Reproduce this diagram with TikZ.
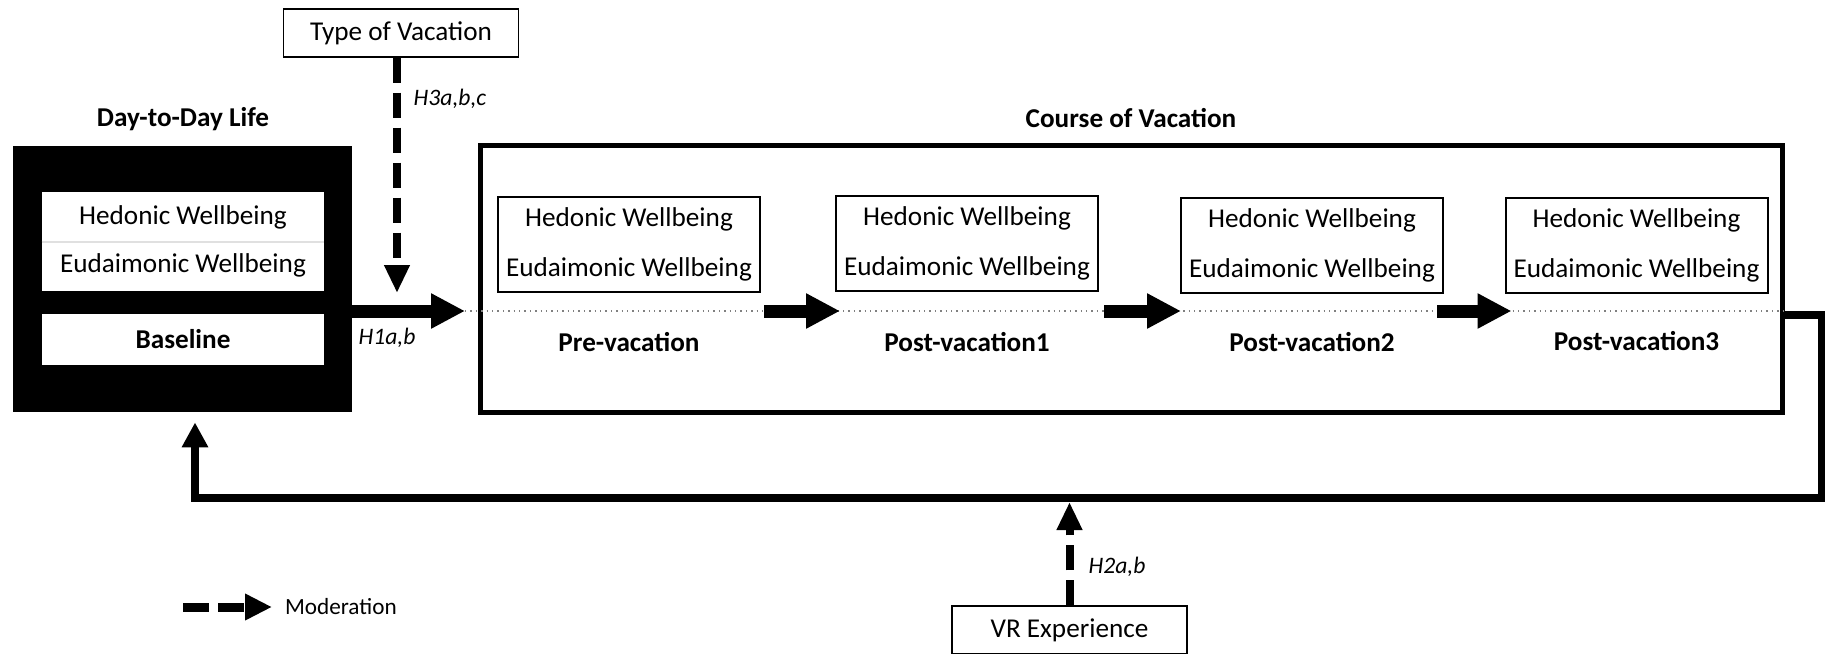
\documentclass[tikz,border=0pt]{standalone}
\usepackage{fontspec}
\setmainfont{Carlito}
\usetikzlibrary{arrows.meta,positioning,calc}

\tikzset{
  phase/.style={font=\fontsize{13.6}{16}\selectfont\bfseries},
  hyp/.style={font=\fontsize{11.8}{14}\selectfont\itshape},
  wellbox/.style={draw, line width=1pt, minimum width=131pt, minimum height=47.5pt,
    inner sep=0pt, align=center, font=\fontsize{13.6}{25}\selectfont},
  factor/.style={draw, line width=0.7pt, minimum width=117.5pt, minimum height=24pt,
    inner sep=0pt, font=\fontsize{13.6}{16}\selectfont},
  flow/.style={line width=6.5pt, -{Triangle[width=16.5pt,length=17pt]}},
  moder/.style={line width=4pt, dash pattern=on 12.5pt off 5pt,
    -{Triangle[width=12pt,length=14pt]}},
  back/.style={line width=3.75pt, line join=miter, -{Triangle[width=12.5pt,length=12.5pt]}},
}

\begin{document}
\begin{tikzpicture}[x=0.5pt,y=-0.5pt]
    \useasboundingbox (0,0) rectangle (1825,653);
    \coordinate (axis) at (0,311);

    \node[fill=black, inner sep=0pt, minimum width=169.5pt, minimum height=133pt] (life) at (182.5,279) {};
    \node[phase] (lifelbl) at (183,119) {Day-to-Day Life};
    \node[fill=white, inner sep=0pt, minimum width=141pt, minimum height=49.5pt,
          align=center, font=\fontsize{13.6}{24}\selectfont] (lifewell) at (183,241.5)
          {Hedonic Wellbeing\\Eudaimonic Wellbeing};
    \draw[black!12, line width=1pt] (lifewell.west) -- (lifewell.east);
    \node[phase, fill=white, inner sep=0pt, minimum width=141pt, minimum height=25.5pt] (base) at (183,339.5) {Baseline};

    \node[draw, line width=2.5pt, inner sep=0pt, minimum width=651pt, minimum height=133.5pt] (course) at (1131,279) {};
    \node[phase] (courselbl) at (1131,118) {Course of Vacation};

    \node[wellbox] (pre) at (629,244.5) {Hedonic Wellbeing\\Eudaimonic Wellbeing};
    \node[wellbox] (post1) at (967,243.5) {Hedonic Wellbeing\\Eudaimonic Wellbeing};
    \node[wellbox] (post2) at (1312,245.5) {Hedonic Wellbeing\\Eudaimonic Wellbeing};
    \node[wellbox] (post3) at (1636.5,245.5) {Hedonic Wellbeing\\Eudaimonic Wellbeing};

    \node[phase] (prelbl) at (pre |- 0,342) {Pre-vacation};
    \node[phase] (post1lbl) at (post1 |- 0,342) {Post-vacation1};
    \node[phase] (post2lbl) at (post2 |- 0,342) {Post-vacation2};
    \node[phase] (post3lbl) at (post3 |- 0,341) {Post-vacation3};

    \coordinate (h1tip) at (465,311);
    \draw[gray, dotted, line width=0.7pt] (h1tip) -- (course.east |- axis);
    \draw[flow] (life.east |- axis) -- (h1tip);
    \node[hyp] (h1) at (387,338) {H1a,b};
    \draw[flow] ([xshift=1.5pt]pre.east |- axis) -- ([xshift=2.5pt]post1.west |- axis);
    \draw[flow] ([xshift=2.5pt]post1.east |- axis) -- ([xshift=0.5pt]post2.west |- axis);
    \draw[flow] ([xshift=-3.5pt]post2.east |- axis) -- ([xshift=3.5pt]post3.west |- axis);

    \node[factor] (type) at (401,33) {Type of Vacation};
    \coordinate (h3tip) at (397,293);
    \draw[moder] (type.south -| h3tip) -- (h3tip);
    \node[hyp] (h3) at (450,99) {H3a,b,c};

    \coordinate (fbr) at (1822,498);
    \coordinate (fbl) at (195,498);
    \draw[back, shorten >=5pt] (course.east |- 0,315) -| (fbr) -| (life.south -| fbl);

    \node[factor] (vr) at (1069.5,630) {VR Experience};
    \draw[moder, shorten >=2pt] (vr.north) -- (vr.north |- fbl);
    \node[hyp] (h2) at (1117,567) {H2a,b};

    \coordinate (legA) at (183,607);
    \coordinate (legB) at (272,607);
    \draw[moder, line width=4.5pt, dash pattern=on 13pt off 4.5pt,
          -{Triangle[width=12.5pt,length=13.5pt]}] (legA) -- (legB);
    \node[right=3pt of legB, font=\fontsize{11.6}{14}\selectfont] (modlbl) {Moderation};
\end{tikzpicture}
\end{document}
